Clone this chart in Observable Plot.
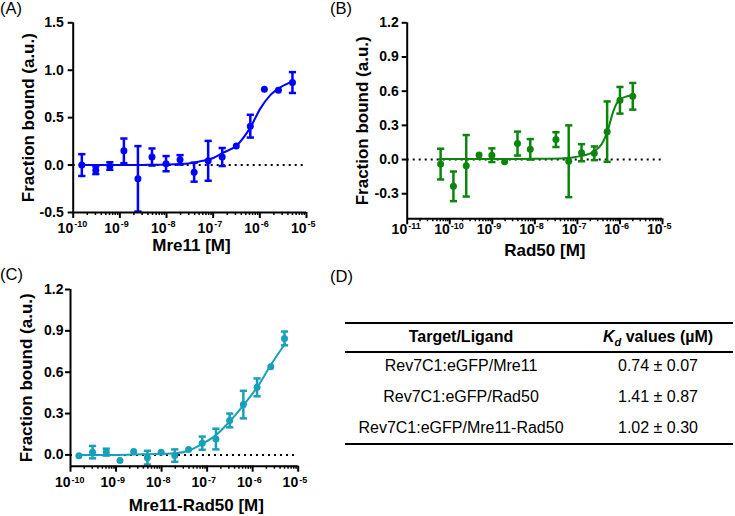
<!DOCTYPE html>
<html><head><meta charset="utf-8">
<script src="https://cdn.jsdelivr.net/npm/d3@7"></script>
<script src="https://cdn.jsdelivr.net/npm/@observablehq/plot@0.6"></script>
<style>
body{margin:0;background:#fff;font-family:"Liberation Sans",Arial,sans-serif;}
#root{position:relative;width:735px;height:516px;overflow:hidden;background:#fff;}
.panel{position:absolute;}
.plab{position:absolute;font-size:16.5px;line-height:16px;color:#000;}
.hl{position:absolute;left:345px;width:388px;height:2px;background:#000;}
.cell{position:absolute;transform:translate(-50%,-50%);white-space:nowrap;font-size:16px;line-height:18px;color:#000;}
.hd{font-weight:bold;}
</style></head><body><div id="root"></div>
<script>
// ---------- data ----------
// Panel A: Mre11
const concA = [1.53e-10,3.05e-10,6.1e-10,1.22e-9,2.44e-9,4.88e-9,9.77e-9,1.95e-8,3.91e-8,7.81e-8,1.56e-7,3.13e-7,6.25e-7,1.25e-6,2.5e-6,5e-6];
const fracA = [0.00,-0.055,-0.01,0.15,-0.145,0.085,0.015,0.055,-0.075,0.045,0.085,0.20,0.41,0.80,0.79,0.87];
const errA  = [0.115,0.04,0.04,0.13,0.345,0.09,0.08,0.05,0.10,0.21,0.095,0,0.12,0,0,0.11];
const fitLogA = [-9.82,-9,-8.5,-8,-7.5,-7.27,-7,-6.81,-6.49,-6.2,-5.99,-5.78,-5.56,-5.3];
const fitValA = [0,0,0.002,0.006,0.02,0.04,0.075,0.125,0.21,0.40,0.595,0.735,0.82,0.88];
// Panel B: Rad50
const concB = [6.1e-11,1.22e-10,2.44e-10,4.88e-10,9.77e-10,1.95e-9,3.91e-9,7.81e-9,3.13e-8,6.25e-8,1.25e-7,2.5e-7,5e-7,1e-6,2e-6];
const fracB = [-0.04,-0.235,-0.055,0.04,0.038,-0.02,0.14,0.09,0.175,-0.015,0.06,0.055,0.245,0.52,0.555];
const errB  = [0.135,0.13,0.27,0,0.06,0,0.105,0.09,0.065,0.315,0.075,0.06,0.265,0.117,0.117];
const fitLogB = [-10.24,-9,-8,-7.4,-6.93,-6.62,-6.42,-6.30,-6.15,-6.01,-5.83,-5.69];
const fitValB = [0.005,0.005,0.006,0.009,0.03,0.067,0.14,0.24,0.43,0.526,0.555,0.564];
// Panel C: Mre11-Rad50
const concC = [1.53e-10,3.05e-10,6.1e-10,1.22e-9,2.44e-9,4.88e-9,9.77e-9,1.95e-8,3.91e-8,7.81e-8,1.56e-7,3.13e-7,6.25e-7,1.25e-6,2.5e-6,5e-6];
const fracC = [-0.007,0.02,0.02,-0.04,0.024,-0.02,0.02,-0.005,0.04,0.085,0.115,0.25,0.365,0.49,0.64,0.845];
const errC  = [0,0.045,0.025,0,0,0.05,0,0.045,0,0.048,0.075,0.05,0.1,0.065,0,0.05];
const fitLogC = [-9.82,-9,-8.3,-7.7,-7.41,-7.11,-6.82,-6.52,-6.21,-5.90,-5.61,-5.29];
const fitValC = [0,0,0.005,0.012,0.03,0.08,0.14,0.237,0.358,0.49,0.648,0.805];
// ticks
const xTicksA = [1e-10,1e-9,1e-8,1e-7,1e-6,1e-5];
const xTicksB = [1e-11,1e-10,1e-9,1e-8,1e-7,1e-6,1e-5];
const xTicksC = [1e-10,1e-9,1e-8,1e-7,1e-6,1e-5];
const yTicksA = [-0.5,0,0.5,1.0,1.5];
const yTicksB = [-0.3,0,0.3,0.6,0.9,1.2];
const yTicksC = [0,0.3,0.6,0.9,1.2];
// labels
const yTitle = "Fraction bound (a.u.)";
const xTitles = ["Mre11 [M]","Rad50 [M]","Mre11-Rad50 [M]"];
const panelLetters = ["(A)","(B)","(C)","(D)"];
const tableHeader = ["Target/Ligand","values (µM)"];
const tableTargets = ["Rev7C1:eGFP/Mre11","Rev7C1:eGFP/Rad50","Rev7C1:eGFP/Mre11-Rad50"];
const tableKd = ["0.74 ± 0.07","1.41 ± 0.87","1.02 ± 0.30"];
const colors = ["#0000ff","#0b850b","#19a0b9"];

// ---------- drawing ----------
const cap = {draw(ctx, size){ const r = Math.sqrt(size/Math.PI); ctx.moveTo(-r,0); ctx.lineTo(r,0); }};
const FONT = '"Liberation Sans", Arial, sans-serif';

function panel(o){
  const pts = o.conc.map((c,i)=>({c, v:o.frac[i], e:o.err[i]}));
  const bars = pts.filter(d=>d.e>0);
  const fit = o.fitLog.map((l,i)=>({c:Math.pow(10,l), v:o.fitVal[i]}));
  const minor = [];
  for (let k = Math.round(Math.log10(o.xDomain[0])); k < Math.round(Math.log10(o.xDomain[1])); k++)
    for (let m = 2; m <= 9; m++) minor.push(m*Math.pow(10,k));
  const svg = Plot.plot({
    width:o.width, height:o.height,
    marginLeft:o.ml, marginRight:o.mr, marginTop:o.mt, marginBottom:o.mb,
    x:{type:"log", domain:o.xDomain},
    y:{domain:o.yDomain},
    style:{fontFamily:FONT, fontSize:"14px", fontWeight:"bold", color:"#000", background:"transparent", overflow:"visible"},
    marks:[
      Plot.ruleY([0], {stroke:"#000", strokeWidth:2, strokeDasharray:"2,4"}),
      Plot.line(fit, {x:"c", y:"v", stroke:o.color, strokeWidth:2, curve:"monotone-x"}),
      Plot.ruleX(bars, {x:"c", y1:d=>d.v-d.e, y2:d=>d.v+d.e, stroke:o.color, strokeWidth:2.5}),
      Plot.dot(bars, {x:"c", y:d=>d.v+d.e, symbol:cap, r:3.6, fill:"none", stroke:o.color, strokeWidth:2.5}),
      Plot.dot(bars, {x:"c", y:d=>d.v-d.e, symbol:cap, r:3.6, fill:"none", stroke:o.color, strokeWidth:2.5}),
      Plot.dot(pts, {x:"c", y:"v", r:3.5, fill:o.color, stroke:"none"}),
      Plot.axisX({ticks:minor, tickSize:3, tickFormat:()=>"", label:null, strokeWidth:1.5}),
      Plot.axisX({ticks:o.xTicks, tickSize:6, tickFormat:()=>"", label:null, strokeWidth:2}),
      Plot.axisY({ticks:o.yTicks, tickSize:5, tickPadding:o.tickPad, tickFormat:d=>d.toFixed(1), label:null, strokeWidth:2, fontSize:14}),
      Plot.ruleX([o.xDomain[0]], {stroke:"#000", strokeWidth:2}),
      Plot.ruleY([o.yDomain[0]], {stroke:"#000", strokeWidth:2}),
      Plot.text(o.xTicks, {x:d=>d, frameAnchor:"bottom", text:()=>"10", textAnchor:"end", lineAnchor:"bottom", dy:o.dyTick, fontSize:14}),
      Plot.text(o.xTicks, {x:d=>d, frameAnchor:"bottom", text:d=>String(Math.round(Math.log10(d))), textAnchor:"start", lineAnchor:"bottom", dy:o.dyExp, dx:1, fontSize:9}),
      Plot.text([o.xTitle], {frameAnchor:"bottom", text:d=>d, textAnchor:"middle", lineAnchor:"bottom", dx:o.titleDx, dy:o.titleDy, fontSize:17}),
      Plot.text([yTitle], {frameAnchor:"left", text:d=>d, rotate:-90, textAnchor:"middle", lineAnchor:"middle", dx:o.yTitleDx, fontSize:17})
    ]
  });
  svg.classList.add("panel");
  svg.style.left = o.left + "px";
  svg.style.top = o.top + "px";
  return svg;
}

const root = document.getElementById("root");
root.appendChild(panel({conc:concA, frac:fracA, err:errA, fitLog:fitLogA, fitVal:fitValA, color:colors[0],
  xTicks:xTicksA, yTicks:yTicksA, xDomain:[1e-10,1e-5], yDomain:[-0.5,1.5], xTitle:xTitles[0],
  left:0, top:0, width:360, height:260, ml:72.7, mr:54, mt:22.3, mb:48,
  tickPad:4.5, dyTick:20, dyExp:14.7, titleDx:1.6, titleDy:38, yTitleDx:-45}));
root.appendChild(panel({conc:concB, frac:fracB, err:errB, fitLog:fitLogB, fitVal:fitValB, color:colors[1],
  xTicks:xTicksB, yTicks:yTicksB, xDomain:[1e-11,1e-5], yDomain:[-0.52,1.2], xTitle:xTitles[1],
  left:330, top:0, width:405, height:260, ml:76.7, mr:73, mt:22.3, mb:41.7,
  tickPad:3.5, dyTick:15, dyExp:10, titleDx:10, titleDy:37.5, yTitleDx:-44.7}));
root.appendChild(panel({conc:concC, frac:fracC, err:errC, fitLog:fitLogC, fitVal:fitValC, color:colors[2],
  xTicks:xTicksC, yTicks:yTicksC, xDomain:[1e-10,1e-5], yDomain:[-0.082,1.2], xTitle:xTitles[2],
  left:0, top:260, width:330, height:256, ml:70, mr:32.3, mt:29, mb:50.3,
  tickPad:2, dyTick:21, dyExp:16.5, titleDx:12, titleDy:45, yTitleDx:-44}));

// panel letters
[[0,0],[330,0],[0,266],[330,268]].forEach(([x,y],i)=>{
  const d = document.createElement("div"); d.className="plab";
  d.style.left=x+"px"; d.style.top=y+"px"; d.textContent=panelLetters[i]; root.appendChild(d);
});
// table
[322.3,350.7,443.3].forEach(y=>{ const d=document.createElement("div"); d.className="hl"; d.style.top=y+"px"; root.appendChild(d); });
function cell(x,y,html,cls){ const d=document.createElement("div"); d.className="cell"+(cls?" "+cls:""); d.style.left=x+"px"; d.style.top=y+"px"; d.innerHTML=html; root.appendChild(d); }
const col1 = 461, col2 = 658;
cell(col1, 336.7, tableHeader[0], "hd");
cell(col2, 336.7, '<i>K</i><span style="font-size:11px;position:relative;top:4px;font-style:italic">d</span> ' + tableHeader[1], "hd");
const rowY = [365.7,396.7,428.3];
tableTargets.forEach((t,i)=>{ cell(col1,rowY[i],t); cell(col2,rowY[i],tableKd[i]); });
</script></body></html>
